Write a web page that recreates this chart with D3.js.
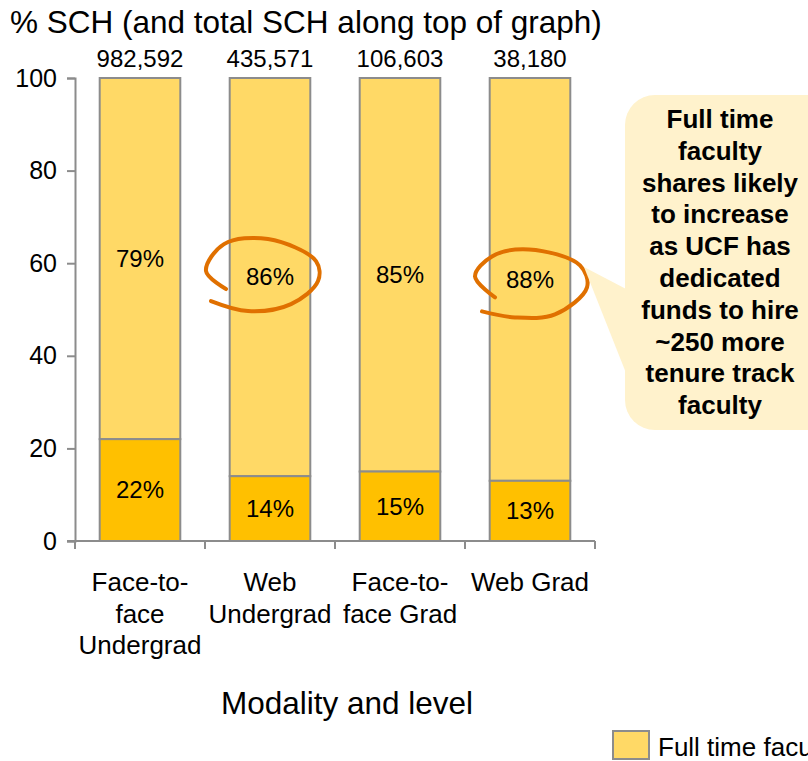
<!DOCTYPE html>
<html>
<head>
<meta charset="utf-8">
<script src="https://cdn.jsdelivr.net/npm/d3@7"></script>
<style>
  body { margin: 0; background: #fff; }
  svg { font-family: Arial, "Liberation Sans", sans-serif; display: block; }
</style>
</head>
<body>
<div id="chart"></div>
<script>
// data
var categories = ["Face-to-face Undergrad", "Web Undergrad", "Face-to-face Grad", "Web Grad"];
var categoryLines = [["Face-to-", "face", "Undergrad"], ["Web", "Undergrad"], ["Face-to-", "face Grad"], ["Web Grad"]];
var totals = ["982,592", "435,571", "106,603", "38,180"];
var partTime = [22, 14, 15, 13];
var fullTime = [79, 86, 85, 88];
var yTicks = [0, 20, 40, 60, 80, 100];
var calloutLines = ["Full time", "faculty", "shares likely", "to increase", "as UCF has", "dedicated",
  "funds to hire", "~250 more", "tenure track", "faculty"];
var circled = [1, 3];

var W = 808, H = 761;
var margin = { top: 78, left: 75, right: 213, bottom: 220 };
var width = W - margin.left - margin.right,
    height = H - margin.top - margin.bottom;

var svg = d3.select("#chart").append("svg")
  .attr("width", W).attr("height", H);

var g = svg.append("g")
  .attr("transform", "translate(" + margin.left + "," + margin.top + ")");

var x = d3.scaleBand().domain(categories).range([0, 520]).paddingInner(0.38).paddingOuter(0.19);
var y = d3.scaleLinear().domain([0, 100]).range([height, 0]);

// title
svg.append("text").attr("x", 10).attr("y", 33)
  .attr("font-size", 31.5).attr("fill", "#000")
  .text("% SCH (and total SCH along top of graph)");

// full time segment (top, up to 100%)
g.selectAll("rect.full").data(categories).enter().append("rect")
  .attr("class", "full")
  .attr("x", function(d) { return x(d); })
  .attr("width", x.bandwidth())
  .attr("y", y(100))
  .attr("height", function(d, i) { return y(partTime[i]) - y(100); })
  .attr("fill", "#FFD966").attr("stroke", "#8c8c8c").attr("stroke-width", 2);

// part time segment (bottom)
g.selectAll("rect.part").data(categories).enter().append("rect")
  .attr("class", "part")
  .attr("x", function(d) { return x(d); })
  .attr("width", x.bandwidth())
  .attr("y", function(d, i) { return y(partTime[i]); })
  .attr("height", function(d, i) { return y(0) - y(partTime[i]); })
  .attr("fill", "#FFC000").attr("stroke", "#8c8c8c").attr("stroke-width", 2);

// value labels
g.selectAll("text.fullLbl").data(categories).enter().append("text")
  .attr("x", function(d) { return x(d) + x.bandwidth() / 2; })
  .attr("y", function(d, i) { return (y(100) + y(partTime[i])) / 2; })
  .attr("dy", "0.35em").attr("text-anchor", "middle").attr("font-size", 24)
  .text(function(d, i) { return fullTime[i] + "%"; });

g.selectAll("text.partLbl").data(categories).enter().append("text")
  .attr("x", function(d) { return x(d) + x.bandwidth() / 2; })
  .attr("y", function(d, i) { return (y(0) + y(partTime[i])) / 2; })
  .attr("dy", "0.35em").attr("text-anchor", "middle").attr("font-size", 24)
  .text(function(d, i) { return partTime[i] + "%"; });

// totals along the top
g.selectAll("text.total").data(categories).enter().append("text")
  .attr("x", function(d) { return x(d) + x.bandwidth() / 2; })
  .attr("y", -11).attr("text-anchor", "middle").attr("font-size", 24)
  .text(function(d, i) { return totals[i]; });

// y axis
var yAxis = g.append("g").call(d3.axisLeft(y).tickValues(yTicks).tickSize(8).tickPadding(10));
yAxis.select(".domain").attr("stroke", "#8c8c8c").attr("stroke-width", 2);
yAxis.selectAll(".tick line").attr("stroke", "#8c8c8c").attr("stroke-width", 2);
yAxis.selectAll(".tick text").attr("font-size", 25).attr("fill", "#000")
  .attr("font-family", "Arial, 'Liberation Sans', sans-serif");

// x axis with ticks at band boundaries
g.append("line").attr("x1", -8).attr("x2", 520).attr("y1", height).attr("y2", height)
  .attr("stroke", "#8c8c8c").attr("stroke-width", 2);
var step = x.step();
g.selectAll("line.xtick").data(d3.range(categories.length + 1)).enter().append("line")
  .attr("x1", function(i) { return x(categories[0]) - step * 0.19 + i * step; })
  .attr("x2", function(i) { return x(categories[0]) - step * 0.19 + i * step; })
  .attr("y1", height).attr("y2", height + 8)
  .attr("stroke", "#8c8c8c").attr("stroke-width", 2);

// category labels
var cl = g.selectAll("text.cat").data(categories).enter().append("text")
  .attr("text-anchor", "middle").attr("font-size", 26)
  .attr("transform", function(d) { return "translate(" + (x(d) + x.bandwidth() / 2) + "," + (height + 50) + ")"; });
cl.selectAll("tspan").data(function(d, i) { return categoryLines[i]; }).enter().append("tspan")
  .attr("x", 0).attr("dy", function(d, j) { return j === 0 ? 0 : 31.5; })
  .text(function(d) { return d; });

// axis title
svg.append("text").attr("x", 347).attr("y", 714).attr("text-anchor", "middle")
  .attr("font-size", 31.5).text("Modality and level");

// hand drawn circles around the web shares
var circlePaths = [
  [[-44, 12], [-64, -6], [-46, -33], [-2, -38], [46, -16], [48, 4], [21, 27], [-22, 34], [-59, 24]],
  [[-35, 18], [-55, -3], [-38, -23], [-1, -30], [50, -14], [57, 8], [25, 35], [-15, 38], [-48, 32]]
];
var lineGen = d3.line().curve(d3.curveCatmullRom.alpha(0.5));
circled.forEach(function(ci, k) {
  var cx = x(categories[ci]) + x.bandwidth() / 2,
      cy = (y(100) + y(partTime[ci])) / 2;
  g.append("path")
    .attr("transform", "translate(" + cx + "," + cy + ")")
    .attr("d", lineGen(circlePaths[k]))
    .attr("fill", "none").attr("stroke", "#E07000").attr("stroke-width", 4)
    .attr("stroke-linecap", "round");
});

// callout box with pointer
var callout = svg.append("g");
callout.append("path")
  .attr("d", "M584,267 L628,290 L628,378 Z")
  .attr("fill", "#FFF2CC");
callout.append("rect")
  .attr("x", 625).attr("y", 95).attr("width", 230).attr("height", 335)
  .attr("rx", 30).attr("ry", 30).attr("fill", "#FFF2CC");
callout.append("text").attr("text-anchor", "middle").attr("font-size", 26).attr("font-weight", "bold")
  .attr("transform", "translate(720,128)")
  .selectAll("tspan").data(calloutLines).enter().append("tspan")
  .attr("x", 0).attr("dy", function(d, j) { return j === 0 ? 0 : 31.8; })
  .text(function(d) { return d; });

// legend (runs off the right edge, as in the original)
svg.append("rect").attr("x", 613).attr("y", 731).attr("width", 36).attr("height", 28)
  .attr("fill", "#FFD966").attr("stroke", "#8c8c8c").attr("stroke-width", 2);
svg.append("text").attr("x", 658).attr("y", 756).attr("font-size", 26).text("Full time faculty");
</script>
</body>
</html>
